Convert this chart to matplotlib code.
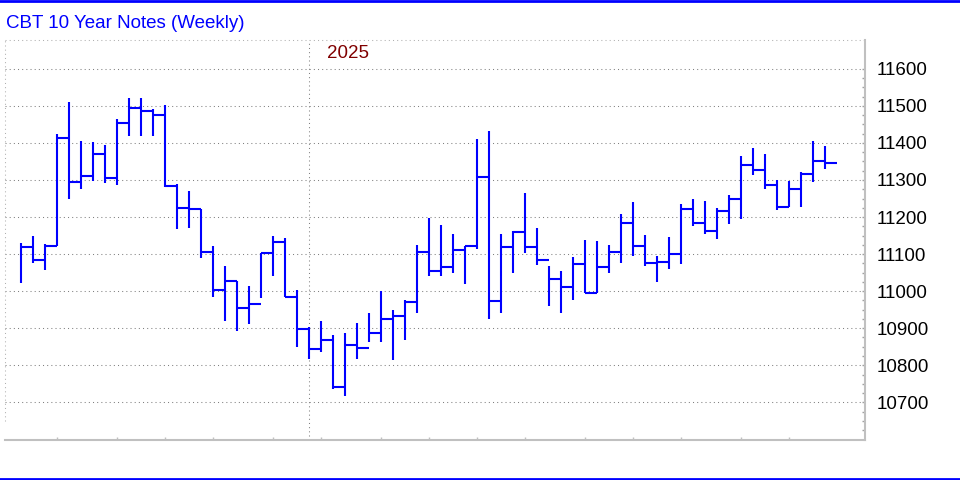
import matplotlib.pyplot as plt
import numpy as np
from matplotlib.lines import Line2D

# weekly bars (high / low / close)
highs = [11131, 11149, 11127, 11424, 11511, 11405, 11403, 11395, 11464, 11522,
         11522, 11492, 11503, 11288, 11270, 11223, 11122, 11068, 11028, 11014,
         11104, 11149, 11143, 11003, 10903, 10920, 10881, 10886, 10914, 10941,
         11000, 10949, 10976, 11124, 11198, 11178, 11154, 11123, 11411, 11432,
         11154, 11162, 11265, 11170, 11068, 11054, 11092, 11138, 11135, 11124,
         11208, 11241, 11152, 11095, 11146, 11235, 11250, 11244, 11225, 11259,
         11366, 11387, 11371, 11300, 11298, 11322, 11406, 11393]
lows = [11021, 11077, 11057, 11122, 11250, 11277, 11296, 11293, 11287, 11420,
        11420, 11420, 11280, 11168, 11171, 11090, 10985, 10920, 10893, 10912,
        10982, 11041, 10983, 10850, 10818, 10837, 10735, 10718, 10818, 10864,
        10864, 10813, 10867, 10942, 11040, 11040, 11050, 11018, 11114, 10924,
        10941, 11050, 11104, 11070, 10959, 10941, 10977, 10995, 10995, 11050,
        11077, 11096, 11067, 11025, 11061, 11072, 11177, 11154, 11142, 11180,
        11196, 11313, 11275, 11219, 11227, 11228, 11294, 11329]
closes = [11120, 11084, 11123, 11414, 11295, 11311, 11371, 11306, 11453, 11493,
          11485, 11475, 11285, 11225, 11223, 11105, 11003, 11028, 10954, 10965,
          11104, 11132, 10984, 10898, 10845, 10867, 10740, 10855, 10847, 10886,
          10926, 10934, 10972, 11107, 11055, 11064, 11110, 11123, 11307, 10974,
          11118, 11160, 11118, 11083, 11034, 11011, 11074, 10995, 11064, 11106,
          11183, 11123, 11075, 11079, 11099, 11223, 11185, 11161, 11215, 11248,
          11340, 11326, 11286, 11228, 11277, 11315, 11350, 11345]

month_starts = [3, 8, 12, 16, 21, 25, 30, 34, 38, 42, 47, 51, 55, 60, 64]
year_week = 24
year_label = "2025"
price_ticks = [10700, 10800, 10900, 11000, 11100, 11200, 11300, 11400, 11500, 11600]

blue = '#0000ff'

fig = plt.figure(figsize=(9.6, 4.8), dpi=100)
ax = fig.add_axes([5.3 / 960, 1 - 440.3 / 480, 860 / 960, 400 / 480])

x = np.arange(len(highs))
ax.vlines(x, lows, highs, color=blue, lw=1.5, capstyle='butt', zorder=3)
ax.hlines(closes, x, x + 1, color=blue, lw=1.5, capstyle='butt', zorder=3)

ax.set_xlim(-1.28, 70.38)
ax.set_ylim(10597.5, 11677)

# horizontal grid + year separator
for p in price_ticks:
    ax.axhline(p, color='#808080', lw=0.75, ls=(0, (1, 3)), zorder=1)
ax.axvline(year_week + 0.05, ymin=(440.3 - 436) / 400, ymax=1,
           color='#808080', lw=0.75, ls=(0, (1, 3)), zorder=1)
ax.text(27.25, 0.968, year_label, transform=ax.get_xaxis_transform(),
        ha='center', va='center', color='#800000', fontsize=13.5,
        family='Liberation Sans')

# frame: dotted top/left, solid right/bottom
for side in ['top', 'left']:
    ax.spines[side].set_visible(False)
for side in ['right', 'bottom']:
    ax.spines[side].set_color('#c0c0c0')
    ax.spines[side].set_linewidth(1.5)
ax.add_line(Line2D([0, 1], [1, 1], transform=ax.transAxes, color='#b0b0b0',
                   lw=0.75, ls=(0, (1, 3)), clip_on=False))
ax.add_line(Line2D([0, 0], [0.049, 1], transform=ax.transAxes, color='#b0b0b0',
                   lw=0.75, ls=(0, (1, 3)), clip_on=False))

ax.set_xticks(month_starts)
ax.tick_params(axis='x', direction='in', length=2.4, width=1, color='#c0c0c0',
               labelbottom=False)
ax.set_yticks(price_ticks)
ax.set_yticks(np.arange(10625, 11600, 25), minor=True)
ax.yaxis.tick_right()
ax.tick_params(axis='y', which='both', direction='in', length=2.4, width=1,
               color='#a0a0a0', pad=8, labelsize=13.5)
for lab in ax.get_yticklabels():
    lab.set_family('Liberation Sans')

fig.text(6 / 960, 1 - 27.5 / 480, 'CBT 10 Year Notes (Weekly)', color=blue,
         fontsize=13.5, family='Liberation Sans', va='baseline', ha='left')

# blue bands at top and bottom
fig.add_artist(Line2D([0, 1], [1 - 1.3 / 480] * 2, color=blue, lw=2))
fig.add_artist(Line2D([0, 1], [1.3 / 480] * 2, color=blue, lw=2))

fig.savefig('out.png', dpi=100)
